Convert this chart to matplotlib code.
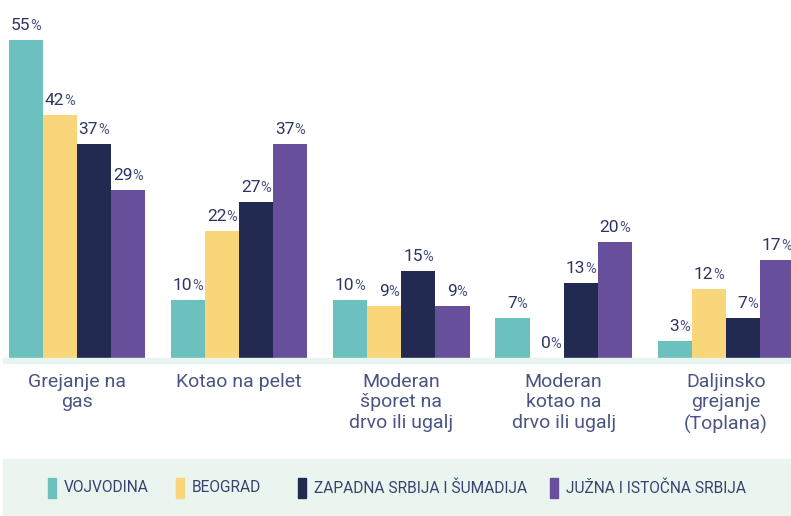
import numpy as np
import matplotlib.pyplot as plt
from matplotlib.patches import Rectangle

plt.rcParams['font.family'] = ['Roboto', 'DejaVu Sans']

categories = ['Grejanje na\ngas', 'Kotao na pelet', 'Moderan\nšporet na\ndrvo ili ugalj',
              'Moderan\nkotao na\ndrvo ili ugalj', 'Daljinsko\ngrejanje\n(Toplana)']
regions = ['VOJVODINA', 'BEOGRAD', 'ZAPADNA SRBIJA I ŠUMADIJA', 'JUŽNA I ISTOČNA SRBIJA']
vojvodina = [55, 10, 10, 7, 3]
beograd = [42, 22, 9, 0, 12]
zapadna = [37, 27, 15, 13, 7]
juzna = [29, 37, 9, 20, 17]
colors = ['#6cc1bf', '#f9d67a', '#222a52', '#684f9b']

series = [vojvodina, beograd, zapadna, juzna]
W, H = 791, 516
fig = plt.figure(figsize=(W / 100, H / 100), dpi=100)

# light green baseline strip and legend panel
fig.patches.append(Rectangle((3 / W, 1 - 363 / H), 788 / W, 5 / H,
                             transform=fig.transFigure, color='#e8f4ee', zorder=0))
fig.patches.append(Rectangle((3 / W, 0), 788 / W, 1 - 459 / H,
                             transform=fig.transFigure, color='#e9f5ee', zorder=0))

ax = fig.add_axes([0, 1 - 358 / H, 1, 358 / H])
ax.set_facecolor('none')
x = np.arange(len(categories))
bw = 0.21
for i, (vals, c) in enumerate(zip(series, colors)):
    xs = x + (i - 1.5) * bw
    ax.bar(xs, vals, width=bw, color=c, zorder=2)
    for xx, v in zip(xs, vals):
        ax.annotate(str(v), (xx, v), xytext=(3, 5), textcoords='offset points',
                    ha='right', va='bottom', fontsize=12.5, color='#2e3560')
        ax.annotate('%', (xx, v), xytext=(3, 5), textcoords='offset points',
                    ha='left', va='bottom', fontsize=10.5, color='#4a5583')

ax.set_xlim(-77 / 162.2, (791 - 77) / 162.2)
ax.set_ylim(0, 358 / 5.782)
ax.axis('off')

for xx, lab in zip(x, categories):
    ax.annotate(lab, (xx, 0), xytext=(0, -10.5), textcoords='offset points',
                ha='center', va='top', fontsize=14, color='#4a5583',
                linespacing=1.2, annotation_clip=False)

# legend
mark_x = [48, 176, 298, 550]
for mx, name, c in zip(mark_x, regions, colors):
    fig.patches.append(Rectangle((mx / W, 1 - 498 / H), 8 / W, 20 / H,
                                 transform=fig.transFigure, color=c))
    fig.text((mx + 16) / W, 1 - 488 / H, name, ha='left', va='center',
             fontsize=11.2, color='#3b4270')

fig.savefig('out.png', dpi=100)
